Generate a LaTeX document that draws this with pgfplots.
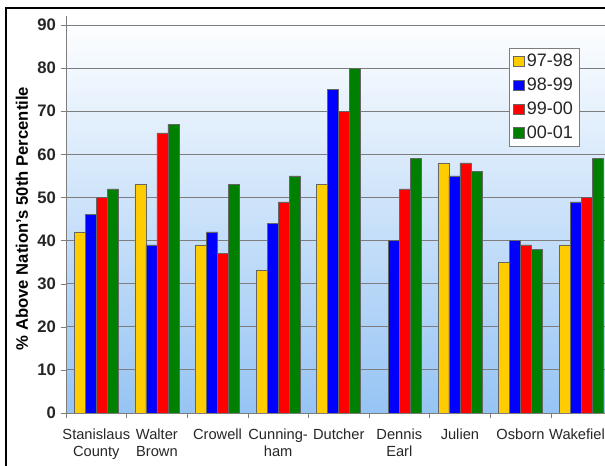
\documentclass[border=0pt]{standalone}
\usepackage{pgfplots}
\pgfplotsset{compat=1.18}
\usepackage{fontspec}
\setmainfont{Liberation Sans}

\definecolor{cyel}{RGB}{255,204,0}
\definecolor{cblue}{RGB}{0,0,255}
\definecolor{cred}{RGB}{255,0,0}
\definecolor{cgreen}{RGB}{0,128,0}
\definecolor{bgblue}{RGB}{150,196,244}
\definecolor{gridgray}{RGB}{125,125,125}

\begin{document}
\begin{tikzpicture}[x=0.75pt,y=0.75pt]
\path[use as bounding box] (0,0) rectangle (605,466);
\clip (0,0) rectangle (605,466);
\begin{axis}[
  at={(49.5pt,39.75pt)}, anchor=south west,
  scale only axis,
  width=404.25pt, height=297.75pt,
  xmin=-0.5, xmax=8.394,
  ymin=0, ymax=92.1,
  ybar=0pt, bar width=8.25pt,
  axis background/.style={shade, top color=white, bottom color=bgblue},
  axis x line*=bottom, axis y line*=left,
  axis line style={gridgray},
  xtick={0,...,8},
  xticklabels={{Stanislaus\\County},{Walter\\Brown},Crowell,{Cunning-\\ham},Dutcher,{Dennis\\Earl},Julien,Osborn,Wakefield},
  major x tick style={draw=none},
  minor xtick={-0.5,0.5,...,8.5},
  minor tick length=4pt,
  ytick={0,10,...,90},
  major tick length=4pt,
  tick align=outside,
  tick style={gridgray},
  ymajorgrids, grid style={gridgray, line width=0.6pt},
  xticklabel style={font=\fontsize{11}{13}\selectfont, align=center, text=black!85, yshift=-4pt},
  yticklabel style={font=\fontsize{12.5}{14}\selectfont\bfseries, text=black!85},
  /pgf/number format/assume math mode=true,
  ylabel={\% Above Nation's 50th Percentile},
  ylabel style={font=\fontsize{12.5}{14}\selectfont\bfseries, at={(axis description cs:-0.082,0.49)}, anchor=center},
  legend style={at={(axis description cs:0.952,0.92)}, anchor=north east,
    draw=gridgray, fill=white, font=\fontsize{13.5}{15}\selectfont,
    row sep=3pt, inner sep=2.5pt, cells={anchor=west}, text=black!85},
  legend image code/.code={\draw[#1] (0pt,-4pt) rectangle (8pt,4pt);},
]
\addplot[fill=cyel, draw=black!60] coordinates {(0,42) (1,53) (2,39) (3,33) (4,53) (6,58) (7,35) (8,39)};
\addlegendentry{97-98}
\addplot[fill=cblue, draw=black!60] coordinates {(0,46) (1,39) (2,42) (3,44) (4,75) (5,40) (6,55) (7,40) (8,49)};
\addlegendentry{98-99}
\addplot[fill=cred, draw=black!60] coordinates {(0,50) (1,65) (2,37) (3,49) (4,70) (5,52) (6,58) (7,39) (8,50)};
\addlegendentry{99-00}
\addplot[fill=cgreen, draw=black!60] coordinates {(0,52) (1,67) (2,53) (3,55) (4,80) (5,59) (6,56) (7,38) (8,59)};
\addlegendentry{00-01}
\end{axis}
\draw[black, line width=1.5pt] (6,0) -- (6,458) -- (605,458);
\end{tikzpicture}
\end{document}
